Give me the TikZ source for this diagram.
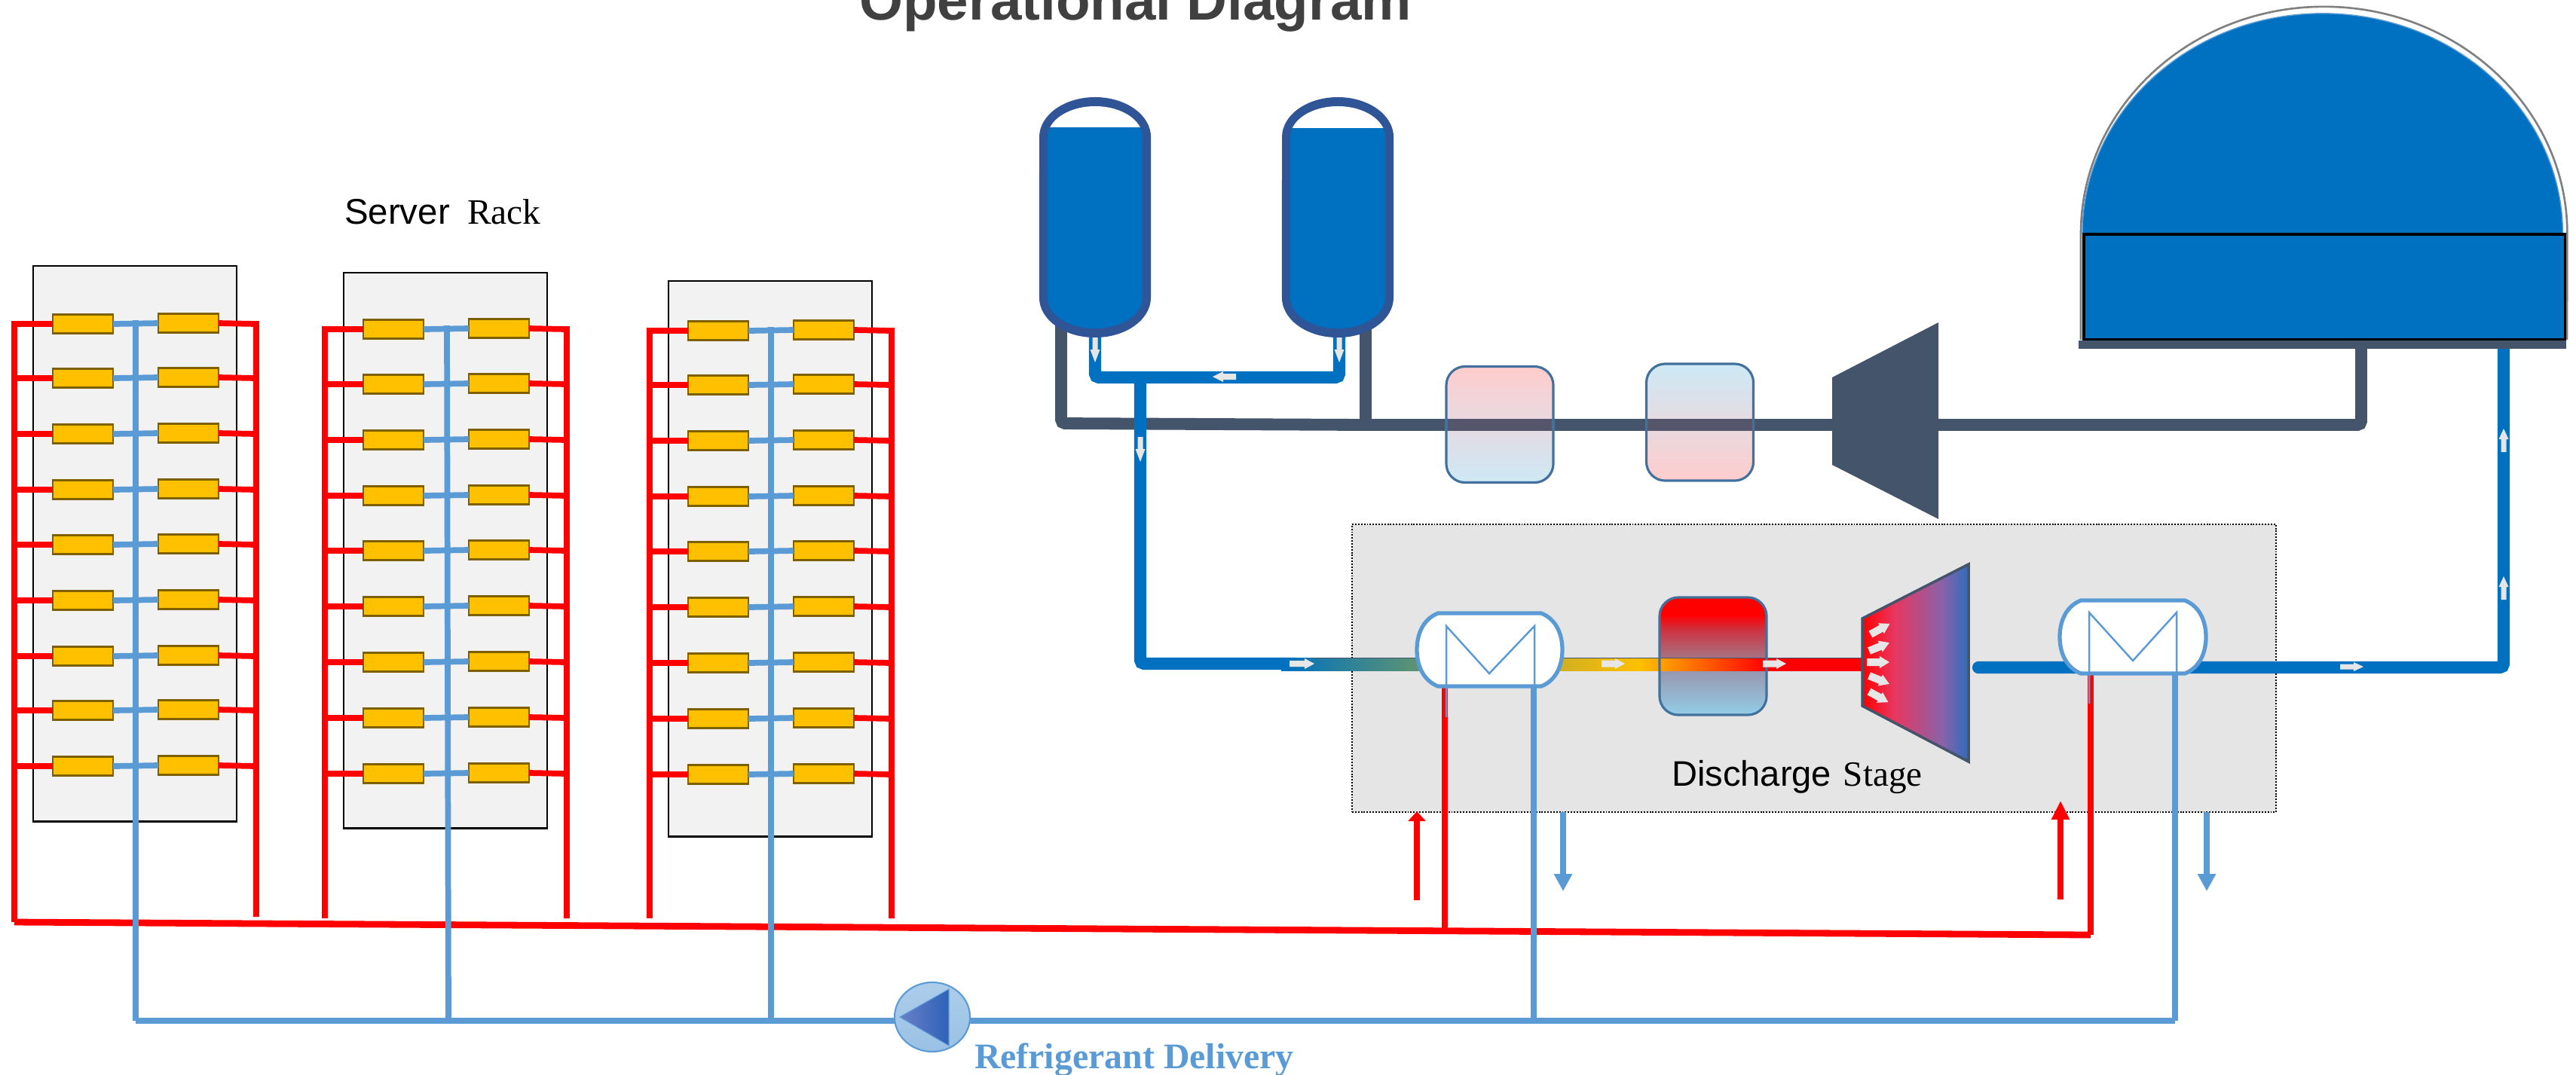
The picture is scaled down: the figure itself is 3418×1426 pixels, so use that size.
\documentclass[tikz,border=0pt]{standalone}
\usepackage{fontspec}
\setmainfont{Liberation Sans}
\newfontfamily\serifx{Liberation Serif}
\usetikzlibrary{arrows.meta,calc,shapes.geometric}
\definecolor{redpipe}{HTML}{FF0000}
\definecolor{bluepipe}{HTML}{5B9BD5}
\definecolor{deep}{HTML}{0070C0}
\definecolor{dark}{HTML}{44546A}
\definecolor{shaftc}{HTML}{55566C}
\definecolor{ring}{HTML}{2F5597}
\definecolor{flowc}{HTML}{E7E6E6}
\definecolor{srv}{HTML}{FFC000}
\definecolor{srvl}{HTML}{7F6000}
\definecolor{boxl}{HTML}{41719C}
\definecolor{pipeA}{HTML}{0070C0}
\definecolor{pipeB}{HTML}{5F9470}
\definecolor{pipeC}{HTML}{D4B020}
\definecolor{pipeD}{HTML}{FFC000}
\definecolor{mA}{HTML}{92CDE8}
\definecolor{mB}{HTML}{9898B0}
\definecolor{mC}{HTML}{A8707F}
\definecolor{mD}{HTML}{D03040}
\definecolor{tA}{HTML}{E8375F}
\definecolor{tB}{HTML}{8A62A8}
\definecolor{tC}{HTML}{2D6CBD}
\definecolor{pk}{HTML}{FFCCCC}
\definecolor{cy}{HTML}{CDE9F6}
\definecolor{pmA}{HTML}{6A7FC8}
\definecolor{pmB}{HTML}{2E62B8}
\pgfdeclarehorizontalshading{pipegrad}{100bp}{color(0bp)=(pipeA); color(25bp)=(pipeA); color(36.9bp)=(pipeB); color(49.2bp)=(pipeC); color(55.7bp)=(pipeD); color(66.5bp)=(redpipe); color(75bp)=(redpipe); color(100bp)=(redpipe)}
\pgfdeclareverticalshading{midgrad}{100bp}{color(0bp)=(mA); color(25bp)=(mA); color(43.5bp)=(mB); color(50bp)=(mC); color(61.5bp)=(mD); color(67.5bp)=(redpipe); color(75bp)=(redpipe); color(100bp)=(redpipe)}
\pgfdeclarehorizontalshading{turbgrad}{100bp}{color(0bp)=(redpipe); color(25bp)=(redpipe); color(40bp)=(tA); color(62.5bp)=(tB); color(75bp)=(tC); color(100bp)=(tC)}
\pgfdeclarehorizontalshading{pumpgrad}{100bp}{color(0bp)=(pmA); color(25bp)=(pmA); color(75bp)=(pmB); color(100bp)=(pmB)}
\tikzset{
  rackbox/.style={draw=black,fill=black!5,line width=.7pt,outer sep=0pt},
  server/.style={draw=srvl,fill=srv,line width=.75pt,minimum width=.8cm,minimum height=.25cm,inner sep=0pt,outer sep=0pt},
  redline/.style={draw=redpipe,line width=2.2pt},
  blueline/.style={draw=bluepipe,line width=2.2pt},
  redmain/.style={draw=redpipe,line width=2.5pt},
  bluemain/.style={draw=bluepipe,line width=2.5pt},
  deeppipe/.style={draw=deep,line width=4.6pt},
  darkpipe/.style={draw=dark,line width=4.5pt},
  palebox/.style={draw=boxl,line width=.9pt,rounded corners=.25cm,minimum width=1.42cm,minimum height=1.54cm,inner sep=0pt,outer sep=0pt},
  hxthin/.style={draw=bluepipe,line width=.7pt},
  hxshell/.style={draw=bluepipe,fill=white,line width=1.5pt},
  label/.style={anchor=base west,inner sep=0pt,outer sep=0pt},
  flow/.style={fill=flowc,draw=none},
  upred/.style={redmain,-{Triangle[length=3.7pt,width=6.5pt]}},
  upredl/.style={redmain,-{Triangle[length=7.1pt,width=6.5pt]}},
  downblue/.style={bluemain,-{Triangle[length=6.5pt,width=6.5pt]}},
}
% flow arrow: tail x, tail y, angle, length, head length, stem half, head half
\newcommand\flowarrow[7]{\fill[flow,shift={(#1,#2)},rotate=#3] (0,-#6) -- ({#4-#5},-#6) -- ({#4-#5},-#7) -- (#4,0) -- ({#4-#5},#7) -- ({#4-#5},#6) -- (0,#6) -- cycle;}
\newcommand\serverrack[5]{%
  \pgfmathsetmacro\rl{#2-25}
  \pgfmathsetmacro\rr{#2+296}
  \pgfmathsetmacro\sl{#2+66}
  \pgfmathsetmacro\sr{#2+206}
  \pgfmathsetmacro\bx{#2+136}
  \node[rackbox,anchor=north west,minimum width=2.7cm,minimum height=7.37cm,inner sep=0pt] (#1) at (#2,#3) {};
  \coordinate (#1top) at (\bx,#3);
  \foreach \yy [count=\i] in {#4}{
    \node[server] (#1L\i) at (\sl,\yy) {};
    \node[server] (#1R\i) at (\sr,\yy-1) {};
    \draw[blueline] (#1L\i.east) -- (#1R\i.west);
  }
  \foreach \yy [count=\i] in {#4}{
    \ifnum\i=1
      \draw[redline] (#1L\i.west) -- (\rl,\yy) -- (\rl,#5);
      \draw[redline] (#1R\i.east) -- (\rr,\yy) -- (\rr,#5);
    \else
      \draw[redline] (#1L\i.west) -- (\rl,\yy);
      \draw[redline] (#1R\i.east) -- (\rr,\yy);
    \fi
  }
}
\newcommand\tank[3]{% name, cx, liquid y
  \coordinate (#1) at (#2,400);
  \fill[ring] ({#2-74},182) arc[start angle=180,end angle=0,x radius=.74cm,y radius=.53cm] -- ({#2+74},395) arc[start angle=0,end angle=-180,x radius=.74cm,y radius=.53cm] -- cycle;
  \begin{scope}
    \path[clip] ({#2-63},182) arc[start angle=180,end angle=0,x radius=.63cm,y radius=.41cm] -- ({#2+63},395) arc[start angle=0,end angle=-180,x radius=.63cm,y radius=.41cm] -- cycle;
    \fill[white] ({#2-80},130) rectangle ({#2+80},#3);
    \fill[deep] ({#2-80},#3) rectangle ({#2+80},450);
  \end{scope}
}
\newcommand\hxshape[4]{% left right top bottom
  \filldraw[hxshell] ({#1+28},#3) -- ({#2-28},#3) .. controls ({#2-8},{#3+8}) and (#2,{#3+28}) .. (#2,{(#3+#4)/2}) .. controls (#2,{#4-28}) and ({#2-8},{#4-8}) .. ({#2-28},#4) -- ({#1+28},#4) .. controls ({#1+8},{#4-8}) and (#1,{#4-28}) .. (#1,{(#3+#4)/2}) .. controls (#1,{#3+28}) and ({#1+8},{#3+8}) .. ({#1+28},#3) -- cycle;
}
\begin{document}
\begin{tikzpicture}[x=0.01cm,y=-0.01cm]
\useasboundingbox (0,0) rectangle (3418,1426);
\fill[white] (0,0) rectangle (3418,1426);
% title
\node[label,text=black!75] (title) at (1140,26) {\fontsize{21.2pt}{25pt}\selectfont\bfseries Operational Diagram};
\node[label] (srvlabel) at (457,297) {\fontsize{13.5pt}{16pt}\selectfont Server\hspace{6.6pt}{\serifx Rack}};
% discharge stage background
\node[draw=black,fill=black!10,dash pattern=on .55pt off .55pt,line width=.6pt,anchor=north west,minimum width=12.25cm,minimum height=3.82cm,inner sep=0pt,outer sep=0pt] (stage) at (1794,696) {};
% racks
\serverrack{ra}{44}{353}{430,502,576,650,723,797,871,943,1017}{1217}
\serverrack{rb}{456}{362}{437,510,584,658,731,805,879,953,1027}{1219}
\serverrack{rc}{887}{373}{439,511,585,659,732,806,880,954,1028}{1219}
% refrigerant mains
\coordinate (redstart) at (19,1224);
\coordinate (redend) at (2774,1241);
\coordinate (jr1) at (1917,1236);
\coordinate (blueend) at (2886,1355);
\coordinate (blueA) at (180,1355);
\coordinate (blueB) at (595,1355);
\coordinate (blueC) at (1023,1355);
\coordinate (blueD) at (2035,1355);
\draw[redline] (raL1.west -| redstart) -- (redstart);
\draw[redmain] (redstart) -- (redend);
\draw[bluemain] (blueA) -- (blueend);
\draw[blueline] ($(ratop |- raL1.center)+(0,-5)$) -- (blueA);
\draw[blueline] ($(rbtop |- rbL1.center)+(1,-5)$) -- (blueB);
\draw[blueline] ($(rctop |- rcL1.center)+(0,-5)$) -- (blueC);
% tanks pipes
\coordinate (darkA) at (1408,400);
\coordinate (darkB) at (1812,400);
\coordinate (darkC) at (3133,458);
\draw[darkpipe,rounded corners=.05cm] (darkA) -- (1408,562) -- (1812,564) -- (3133,564) -- (darkC);
\draw[darkpipe] (darkB) -- (1812,564);
\coordinate (legA) at (1453,446);
\coordinate (legB) at (1777,446);
\draw[deeppipe,rounded corners=.05cm] (legA) -- (1453,501) -- (1777,501) -- (legB);
\tank{tankA}{1453}{169}
\tank{tankB}{1775}{170}
\coordinate (tee) at (1513,501);
\coordinate (stageIn) at (1720,881);
\draw[deeppipe,rounded corners=.05cm] (tee) -- (1513,881) -- (stageIn);
% pale boxes on dark shaft
\coordinate (shaftT) at (0,556);
\coordinate (shaftB) at (0,572);
\node[palebox,top color=pk,bottom color=cy] (boxA) at (1990,563.5) {};
\node[palebox,top color=cy,bottom color=pk,minimum height=1.55cm] (boxB) at (2255.5,560.5) {};
\fill[shaftc] (boxA.west |- shaftT) rectangle (boxA.east |- shaftB);
\fill[shaftc] (boxB.west |- shaftT) rectangle (boxB.east |- shaftB);
\draw[boxl,line width=.9pt] (boxA.west |- shaftT) -- (boxA.west |- shaftB) (boxA.east |- shaftT) -- (boxA.east |- shaftB) (boxB.west |- shaftT) -- (boxB.west |- shaftB) (boxB.east |- shaftT) -- (boxB.east |- shaftB);
% dark turbine
\fill[dark] (2431,501) -- (2572,428) -- (2572,689) -- (2431,617) -- cycle;
% dome
\draw[black!50,line width=.75pt] (2761,451) -- (2761,310) arc[start angle=180,end angle=0,x radius=3.225cm,y radius=3.01cm] -- (3406,451);
\filldraw[fill=deep,draw=bluepipe,line width=.4pt] (2763,310) arc[start angle=180,end angle=0,x radius=3.185cm,y radius=2.92cm] -- cycle;
\node[draw=black,fill=deep,line width=.9pt,anchor=north west,minimum width=6.38cm,minimum height=1.39cm,inner sep=0pt,outer sep=0pt] (domebase) at (2765,311) {};
% outlet pipe
\coordinate (outStart) at (2625,886);
\coordinate (outTop) at (3322,460);
\draw[deeppipe,line cap=round,rounded corners=.05cm] (outStart) -- (3322,886) -- (outTop);
\node[fill=dark,anchor=north west,minimum width=6.47cm,minimum height=.11cm,inner sep=0pt,outer sep=0pt] (plate) at (2758,452) {};
% discharge train
\node[palebox,draw=none,shading=midgrad,minimum height=1.56cm] (heater) at (2273,871) {};
\shade[shading=pipegrad] (1700,873) rectangle (2475,890);
\draw[dark,line width=.55pt] (1740,873.5) -- (2475,873.5);
\draw[boxl,line width=.9pt,rounded corners=.25cm] (heater.north west) rectangle (heater.south east);
% cool turbine
\shade[shading=turbgrad] (2471,821) -- (2612,749) -- (2612,1011) -- (2471,937) -- cycle;
\draw[dark,line width=1pt,line join=miter] (2471,821) -- (2612,749) -- (2612,1011) -- (2471,937) -- cycle;
% heat exchangers connectors
\draw[redmain] (jr1) -- (1917,905);
\draw[redmain] (redend) -- (2774,895);
\draw[bluemain] (blueD) -- (2035,905);
\draw[bluemain] (blueend) -- (2886,890);
\hxshape{1880}{2073}{814}{911}
\hxshape{2733}{2927}{797}{894}
\draw[hxthin] (1919,952) -- (1919,831) -- (1976,894) -- (2036,831) -- (2036,911);
\draw[hxthin] (2772,934) -- (2772,813) -- (2830,877) -- (2888,813) -- (2888,894);
% stage arrows
\draw[upred] (1880,1195) -- (1880,1077);
\draw[upredl] (2734,1194) -- (2734,1063);
\draw[downblue] (2074,1078) -- (2074,1183);
\draw[downblue] (2928,1078) -- (2928,1183);
% flow arrows
\flowarrow{1453}{448}{-90}{33}{17}{3.5}{6.5}
\flowarrow{1777}{448}{-90}{33}{17}{3.5}{6.5}
\flowarrow{1640}{500}{180}{31}{14}{4}{7}
\flowarrow{1513}{580}{-90}{33}{17}{3.5}{6.5}
\flowarrow{1711}{881}{0}{33}{13}{4}{7}
\flowarrow{2125}{881}{0}{31}{13}{4.5}{7}
\flowarrow{2339}{881}{0}{31}{13}{4.5}{7}
\flowarrow{3105}{885}{0}{31}{13}{3.5}{6}
\flowarrow{3322}{600}{90}{31}{14}{3.5}{6.5}
\flowarrow{3322}{796}{90}{31}{14}{3.5}{6.5}
\flowarrow{2482}{842}{29}{29}{13}{5}{8}
\flowarrow{2480}{864}{22}{29}{13}{5}{8}
\flowarrow{2477}{879}{0}{30}{13}{5}{8}
\flowarrow{2480}{897}{-22}{29}{13}{5}{8}
\flowarrow{2480}{918}{-29}{29}{13}{5}{8}
% pump
\node[ellipse,draw=bluepipe,line width=.6pt,top color=bluepipe!50!white,bottom color=bluepipe!62!white,minimum width=1cm,minimum height=.92cm,inner sep=0pt] (pump) at (1237,1350) {};
\shade[shading=pumpgrad] (1194,1350) -- (1259,1313) -- (1259,1388) -- cycle;
\draw[bluepipe,line width=.3pt] (1194,1350) -- (1259,1313) -- (1259,1388) -- cycle;
% labels
\node[label] (stagelabel) at (2218,1043) {\fontsize{13.4pt}{16pt}\selectfont Discharge\hspace{4.5pt}{\serifx Stage}};
\node[label,text=bluepipe] (delivery) at (1293,1418) {\fontsize{13.6pt}{16pt}\selectfont\serifx\bfseries Refrigerant Delivery};
\end{tikzpicture}
\end{document}
